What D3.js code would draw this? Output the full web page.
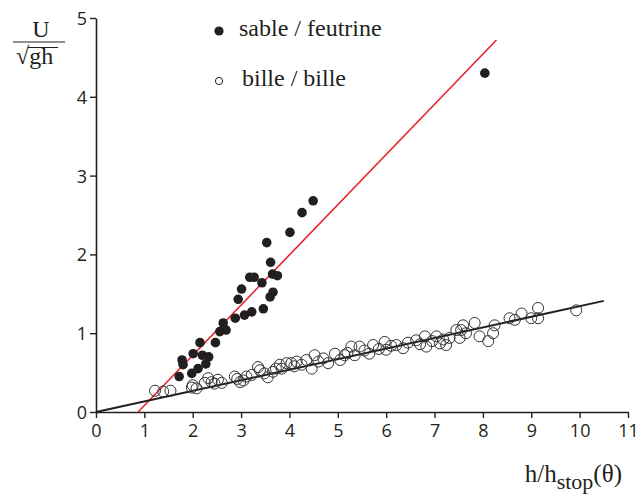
<!DOCTYPE html>
<html>
<head>
    <title>U / sqrt(gh) vs h/hstop</title>
    <style>
        body, html {
            margin: 0;
            padding: 0;
            background: #fff;
            overflow: hidden;
        }
        .tick-label {
            font-family: "Open Sans", "DejaVu Sans", sans-serif;
            font-size: 18px;
            fill: #231f20;
        }
        .serif {
            font-family: "Liberation Serif", "DejaVu Serif", serif;
            fill: #231f20;
        }
    </style>
    <script src="https://d3js.org/d3.v7.min.js"></script>
</head>
<body>

<svg id="chart" width="639" height="494"></svg>

<script>
// sable / feutrine (filled dots)
const sableX = [1.72, 1.78, 1.80, 1.98, 2.01, 2.11, 2.15, 2.20, 2.27, 2.33, 2.47, 2.56, 2.63, 2.69,
    2.88, 2.94, 3.01, 3.07, 3.18, 3.22, 3.27, 3.43, 3.46, 3.53, 3.60, 3.61, 3.65, 3.66, 3.75,
    4.01, 4.26, 4.49, 8.04];
const sableY = [0.45, 0.66, 0.60, 0.49, 0.74, 0.55, 0.88, 0.72, 0.61, 0.70, 0.88, 1.02, 1.13, 1.04,
    1.19, 1.43, 1.56, 1.23, 1.71, 1.27, 1.71, 1.64, 1.31, 2.15, 1.46, 1.90, 1.75, 1.52, 1.73,
    2.28, 2.53, 2.68, 4.30];

// bille / bille (open circles)
const billeX = [1.22, 1.39, 1.54, 1.98, 2.00, 2.08, 2.25, 2.32, 2.39, 2.45, 2.52, 2.60, 2.87, 2.92,
    2.98, 3.05, 3.11, 3.22, 3.35, 3.39, 3.48, 3.55, 3.66, 3.72, 3.80, 3.84, 3.94, 4.04, 4.10,
    4.15, 4.25, 4.35, 4.46, 4.52, 4.60, 4.70, 4.80, 4.94, 5.05, 5.14, 5.20, 5.28, 5.35, 5.45,
    5.55, 5.65, 5.73, 5.85, 5.97, 6.00, 6.10, 6.21, 6.35, 6.45, 6.62, 6.70, 6.80, 6.83, 6.95,
    7.04, 7.11, 7.18, 7.24, 7.31, 7.45, 7.52, 7.55, 7.59, 7.65, 7.83, 7.93, 8.11, 8.21, 8.24,
    8.55, 8.66, 8.80, 9.00, 9.14, 9.14, 9.93];
const billeY = [0.27, 0.26, 0.27, 0.31, 0.34, 0.30, 0.37, 0.43, 0.38, 0.36, 0.41, 0.37, 0.45, 0.42,
    0.38, 0.40, 0.45, 0.47, 0.57, 0.53, 0.49, 0.44, 0.51, 0.55, 0.60, 0.55, 0.62, 0.62, 0.58,
    0.64, 0.60, 0.66, 0.55, 0.72, 0.64, 0.68, 0.62, 0.74, 0.66, 0.72, 0.75, 0.83, 0.72, 0.83,
    0.78, 0.74, 0.85, 0.80, 0.89, 0.79, 0.84, 0.85, 0.81, 0.88, 0.91, 0.86, 0.96, 0.83, 0.90,
    0.96, 0.87, 0.92, 0.85, 0.94, 1.04, 0.94, 1.04, 1.10, 1.00, 1.13, 0.96, 0.90, 1.00, 1.10,
    1.19, 1.17, 1.25, 1.19, 1.32, 1.19, 1.29];

// fitted lines [x1, y1, x2, y2] in data units
const redFit = [0.87, 0, 8.28, 4.72];
const blackFit = [0, 0, 10.5, 1.41];

const xTicks = d3.range(0, 12);
const yTicks = d3.range(0, 6);

const svg = d3.select('#chart');
const x = d3.scaleLinear().domain([0, 11]).range([96, 628]);
const y = d3.scaleLinear().domain([0, 5]).range([412, 18]);
const ink = '#231f20';

// axes
const xAxis = svg.append('g')
    .attr('transform', `translate(0,${y(0)})`)
    .call(d3.axisBottom(x).tickValues(xTicks).tickFormat(d3.format('d'))
        .tickSize(6).tickPadding(4).tickSizeOuter(0));
const yAxis = svg.append('g')
    .attr('transform', `translate(${x(0)},0)`)
    .call(d3.axisLeft(y).tickValues(yTicks).tickFormat(d3.format('d'))
        .tickSize(6).tickPadding(3).tickSizeOuter(0));

[xAxis, yAxis].forEach(g => {
    g.select('.domain').attr('stroke', ink).attr('stroke-width', 1.6);
    g.selectAll('.tick line').attr('stroke', ink).attr('stroke-width', 1.4);
    g.selectAll('.tick text').attr('class', 'tick-label').attr('fill', ink);
});
xAxis.selectAll('.tick text').attr('dy', '0.85em');
yAxis.selectAll('.tick text').attr('dy', '0.36em');

// fit lines
svg.append('line')
    .attr('x1', x(redFit[0])).attr('y1', y(redFit[1]))
    .attr('x2', x(redFit[2])).attr('y2', y(redFit[3]))
    .attr('stroke', '#e8232c').attr('stroke-width', 1.6);

svg.append('line')
    .attr('x1', x(blackFit[0])).attr('y1', y(blackFit[1]))
    .attr('x2', x(blackFit[2])).attr('y2', y(blackFit[3]))
    .attr('stroke', ink).attr('stroke-width', 2);

// data points
svg.append('g').selectAll('circle')
    .data(d3.zip(billeX, billeY))
    .enter().append('circle')
    .attr('cx', d => x(d[0]))
    .attr('cy', d => y(d[1]))
    .attr('r', 5.5)
    .attr('fill', 'none')
    .attr('stroke', '#333')
    .attr('stroke-width', 1);

svg.append('g').selectAll('circle')
    .data(d3.zip(sableX, sableY))
    .enter().append('circle')
    .attr('cx', d => x(d[0]))
    .attr('cy', d => y(d[1]))
    .attr('r', 4.8)
    .attr('fill', ink);

// legend
svg.append('circle').attr('cx', 219).attr('cy', 31).attr('r', 4.6).attr('fill', ink);
svg.append('text').attr('class', 'serif').attr('x', 239).attr('y', 36)
    .style('font-size', '24px').text('sable / feutrine');
svg.append('circle').attr('cx', 219).attr('cy', 81).attr('r', 3.6)
    .attr('fill', 'none').attr('stroke', ink).attr('stroke-width', 1);
svg.append('text').attr('class', 'serif').attr('x', 242).attr('y', 86)
    .style('font-size', '24px').text('bille / bille');

// y axis label: U / sqrt(gh)
svg.append('text').attr('class', 'serif').attr('x', 41).attr('y', 37)
    .attr('text-anchor', 'middle').style('font-size', '24px').text('U');
svg.append('line').attr('x1', 13).attr('x2', 65).attr('y1', 42).attr('y2', 42)
    .attr('stroke', ink).attr('stroke-width', 1.2);
svg.append('text').attr('class', 'serif').attr('x', 16).attr('y', 64)
    .style('font-size', '24px').text('\u221Agh');
svg.append('line').attr('x1', 28).attr('x2', 58).attr('y1', 47.5).attr('y2', 47.5)
    .attr('stroke', ink).attr('stroke-width', 1);

// x axis label
const xl = svg.append('text').attr('class', 'serif').attr('x', 622).attr('y', 482)
    .attr('text-anchor', 'end').style('font-size', '25px');
xl.append('tspan').text('h/h');
xl.append('tspan').attr('dy', 7).style('font-size', '22px').text('stop');
xl.append('tspan').attr('dy', -7).text('(\u03B8)');
</script>

</body>
</html>
